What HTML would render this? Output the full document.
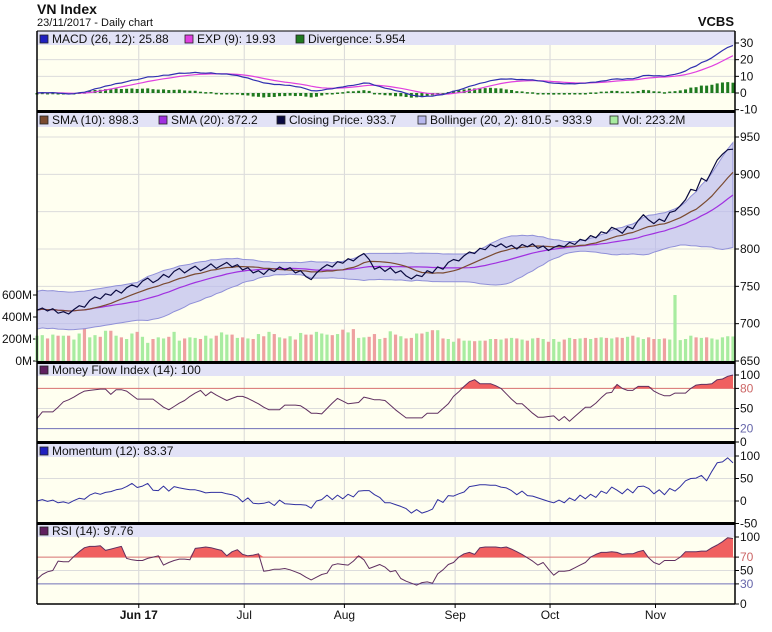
<!DOCTYPE html>
<html><head><meta charset="utf-8"><style>
html,body{margin:0;padding:0;background:#fff;}
svg{display:block;font-family:"Liberation Sans",Arial,sans-serif;}
</style></head><body>
<svg id="chart" width="772" height="632" viewBox="0 0 772 632" xmlns="http://www.w3.org/2000/svg">
<text x="37" y="14" font-size="14" font-weight="bold" fill="#111">VN Index</text>
<text x="37" y="26" font-size="11" fill="#111">23/11/2017 - Daily chart</text>
<text x="734" y="26" font-size="13" font-weight="bold" fill="#111" text-anchor="end">VCBS</text>
</svg>
<script>
const closes = [718,721,717,720,714,716,713,719,724,722,
731,736,733,740,738,745,741,748,752,749,
757,761,755,759,766,762,770,774,768,773,
777,771,775,780,774,778,782,776,779,772,
775,768,771,766,773,770,776,772,775,768,
771,763,759,768,774,779,776,783,781,787,
784,790,794,786,773,776,770,775,768,771,
764,760,765,763,771,768,776,773,782,786,
784,791,796,794,801,799,806,803,807,802,
805,800,806,803,807,801,804,798,802,805,
803,809,806,813,811,818,815,823,821,829,
826,821,830,827,838,846,839,834,840,837,
849,851,858,866,880,878,895,891,905,919,
927,933,933.7];
const volumes = [230,235,205,240,230,230,230,195,250,300,
215,235,220,275,275,230,215,200,250,265,
220,165,200,215,205,220,265,185,205,215,
210,200,230,205,230,260,240,240,210,215,
205,200,245,225,265,245,215,205,225,195,
255,240,240,265,250,240,235,245,285,260,
290,210,215,220,245,200,210,270,240,225,
205,210,250,250,265,280,280,205,200,175,
205,185,185,180,185,185,200,200,195,205,
210,205,195,185,205,210,200,175,200,175,
195,210,200,205,210,200,210,215,210,205,
215,210,220,230,215,200,215,200,200,205,
195,600,190,200,230,215,210,215,205,195,
215,225,223];
const mfiValues = [35,45,45,45,52,60,63,67,72,76,
77,78,79,79,71,78,78,76,70,64,
64,64,64,58,52,48,53,58,62,68,
73,77,69,75,70,66,62,65,68,68,
65,61,57,52,48,48,48,55,55,55,
54,49,43,43,42,50,58,65,61,57,
58,59,67,65,63,63,62,55,48,42,
36,36,36,36,43,43,43,50,57,68,
75,83,90,93,87,87,87,84,80,72,
64,57,57,50,43,37,37,38,39,32,
38,31,38,45,52,52,58,66,73,74,
86,80,77,77,83,83,83,76,72,69,
69,73,73,73,80,85,86,86,87,93,
94,98,100];
const rsiValues = [37,44,48,50,64,63,63,71,78,84,
86,86,87,80,82,84,86,68,66,65,
65,68,70,72,58,62,65,67,67,66,
83,84,85,84,82,80,72,78,81,74,
72,73,75,49,50,52,52,53,51,48,
45,40,36,40,44,46,58,60,59,58,
64,72,66,53,56,59,55,48,50,38,
34,31,28,32,33,31,45,51,59,62,
70,75,77,74,84,85,85,85,84,85,
82,78,74,69,64,58,62,52,43,49,
49,50,54,58,62,70,74,77,77,78,
77,74,75,75,78,80,69,62,59,65,
65,65,70,78,78,78,79,79,84,88,
93,99,97.76];
const monthLabels = ["Jun 17","Jul","Aug","Sep","Oct","Nov"];
const monthIndex = [19.3,39.3,58.3,79.3,97.3,117.3];
const macdTicks = [30,20,10,0,-10];
const priceTicks = [950,900,850,800,750,700,650];
const volTicks = [0,200,400,600];
const mfiTicks = [100,80,50,20,0];
const momTicks = [100,50,0,-50];
const rsiTicks = [100,70,50,30,0];

const svg = document.getElementById('chart');
const NS = 'http://www.w3.org/2000/svg';
const L = 37, R = 735, N = closes.length;
function X(i){ return L + i*(R-2-L)/(N-1); }
function mk(tag, attrs, parent){ const e = document.createElementNS(NS, tag); for (const k in attrs) e.setAttribute(k, attrs[k]); (parent||svg).appendChild(e); return e; }
function lin(v0,y0,v1,y1){ return v => y0 + (v-v0)*(y1-y0)/(v1-v0); }

const yMacd = lin(0,93,30,43);
const yPrice = lin(650,361,950,137);
const yVol = lin(0,361,600,295);
const yMfi = lin(0,442,100,375);
const yMom = lin(0,501,100,456);
const yRsi = lin(0,604,100,537);

function sma(a,n){ return a.map((_,i)=>{ const s=a.slice(Math.max(0,i-n+1),i+1); return s.reduce((p,c)=>p+c,0)/s.length; }); }
function sd(a,n){ return a.map((_,i)=>{ const s=a.slice(Math.max(0,i-n+1),Math.max(i+1,n)); const m=s.reduce((p,c)=>p+c,0)/s.length; return Math.sqrt(s.reduce((p,c)=>p+(c-m)*(c-m),0)/s.length); }); }
function ema(a,n){ const k=2/(n+1); const o=[a[0]]; for(let i=1;i<a.length;i++) o.push(a[i]*k+o[i-1]*(1-k)); return o; }
const sma10 = sma(closes,10), sma20 = sma(closes,20), sd20 = sd(closes,20);
const bbU = sma20.map((m,i)=>m+2*sd20[i]), bbL = sma20.map((m,i)=>m-2*sd20[i]);
const e12 = ema(closes,12), e26 = ema(closes,26);
const macd = e12.map((v,i)=>v-e26[i]);
const sig = ema(macd,9);
const div = macd.map((v,i)=>v-sig[i]);
const mom = closes.map((c,i)=>c-closes[Math.max(0,i-12)]);

const panels = [
 {name:'macd-panel', top:31, bot:111, hdr:14},
 {name:'price-panel', top:112, bot:362, hdr:15},
 {name:'mfi-panel', top:363, bot:442, hdr:13},
 {name:'momentum-panel', top:444, bot:523, hdr:13},
 {name:'rsi-panel', top:525, bot:604, hdr:12}
];
panels.forEach(p=>{
  const bg = mk('rect',{x:L,y:p.top,width:R-L,height:p.bot-p.top,fill:'#fffff0'});
  
  
  const h = mk('rect',{x:L,y:p.top,width:R-L,height:p.hdr,fill:'#e2e2f6'});
  
  
});
monthIndex.forEach((mi,k)=>{
  panels.forEach(p=>{
    const g = mk('line',{x1:X(mi),x2:X(mi),y1:p.top+p.hdr,y2:p.bot,stroke:'#d8d8d8','stroke-width':1});
    
    
  });
  const t = mk('text',{x:X(mi),y:619,'font-size':12,'text-anchor':'middle',fill:'#111','font-weight':k===0?'bold':'normal'});
  t.textContent = monthLabels[k];
  
  
  const tk = mk('line',{x1:X(mi),x2:X(mi),y1:604,y2:608,stroke:'#000'});
  
  
});
function hgrid(ticks, yf, colorOf, lblColorOf, name){
  ticks.forEach(v=>{
    const y = yf(v);
    const c = colorOf(v);
    if (c) { const g = mk('line',{x1:L,x2:R,y1:y,y2:y,stroke:c,'stroke-width':1});
      
       }
    const tk = mk('line',{x1:R,x2:R+4,y1:y,y2:y,stroke:'#000'});
    
    
    const t = mk('text',{x:R+5,y:y+4,'font-size':12,fill:lblColorOf(v)});
    t.textContent = v;
    
    
  });
}
const black = v=>'#111';
hgrid(macdTicks, yMacd, v=>(v===30||v===-10)?null:'#dcdcdc', black, 'macd-axis');
hgrid(priceTicks, yPrice, v=>'#dcdcdc', black, 'price-axis');
hgrid(mfiTicks, yMfi, v=>v===80?'#d87070':v===20?'#7070b8':(v===50?'#dcdcdc':null), v=>v===80?'#cc6666':v===20?'#6666aa':'#111', 'mfi-axis');
hgrid(momTicks, yMom, v=>(v===100||v===-50)?null:'#dcdcdc', black, 'momentum-axis');
hgrid(rsiTicks, yRsi, v=>v===70?'#d87070':v===30?'#7070b8':(v===50?'#dcdcdc':null), v=>v===70?'#cc6666':v===30?'#6666aa':'#111', 'rsi-axis');
volTicks.forEach(v=>{
  const y = yVol(v);
  const tk = mk('line',{x1:L-4,x2:L,y1:y,y2:y,stroke:'#000'});
  
  
  const t = mk('text',{x:L-5,y:y+4,'font-size':12,'text-anchor':'end',fill:'#111'});
  t.textContent = v+'M';
  
  
});

function pts(arr, yf){ return arr.map((v,i)=>X(i).toFixed(1)+','+yf(v).toFixed(1)).join(' '); }
function line(arr, yf, color, w, name){
  const e = mk('polyline',{points:pts(arr,yf),fill:'none',stroke:color,'stroke-width':w,'stroke-linejoin':'round'});
  
  
}
function fillAbove(arr, yf, thr, name){
  const p = arr.map((v,i)=>X(i).toFixed(1)+','+yf(Math.max(v,thr)).toFixed(1));
  p.push(X(arr.length-1).toFixed(1)+','+yf(thr).toFixed(1), X(0).toFixed(1)+','+yf(thr).toFixed(1));
  const e = mk('polygon',{points:p.join(' '),fill:'#f06060',stroke:'none'});
  
  
}

div.forEach((d,i)=>{
  const y0 = yMacd(0), y1 = yMacd(d);
  const b = mk('rect',{x:X(i)-1.5,y:Math.min(y0,y1),width:3,height:Math.max(1.5,Math.abs(y1-y0)),fill:'#1f7a1f'});
  
  
});
line(sig, yMacd, '#e040e0', 1.2, 'exp-signal-line');
line(macd, yMacd, '#3030b0', 1.2, 'macd-line');

volumes.forEach((v,i)=>{
  const up = i===0 || closes[i]>=closes[i-1];
  const b = mk('rect',{x:X(i)-1.6,y:yVol(v),width:3.2,height:yVol(0)-yVol(v),fill:up?'#a8eca0':'#eea0a0'});
  
  
});
{
  const p = bbU.map((v,i)=>X(i).toFixed(1)+','+yPrice(v).toFixed(1)).concat(bbL.map((v,i)=>X(i).toFixed(1)+','+yPrice(v).toFixed(1)).reverse());
  const e = mk('polygon',{points:p.join(' '),fill:'#b8b8ee','fill-opacity':0.65,stroke:'#9090d8','stroke-width':1});
  
  
}
line(sma20, yPrice, '#a030e0', 1.2, 'sma20-line');
line(sma10, yPrice, '#7a4a30', 1.2, 'sma10-line');
line(closes, yPrice, '#0a0a40', 1.2, 'closing-price-line');

fillAbove(mfiValues, yMfi, 80, 'mfi-overbought-fill');
line(mfiValues, yMfi, '#603060', 1, 'mfi-line');
line(mom, yMom, '#3030a0', 1, 'momentum-line');
fillAbove(rsiValues, yRsi, 70, 'rsi-overbought-fill');
line(rsiValues, yRsi, '#603060', 1, 'rsi-line');

[[L,31,L,604],[R,31,R,604]].forEach(c=>{
  const e = mk('line',{x1:c[0],y1:c[1],x2:c[2],y2:c[3],stroke:'#000','stroke-width':1.5});
  
  
});
[[31,1],[111.5,3],[362.5,3],[442.5,3],[523.5,3],[604,1.5]].forEach(c=>{
  const e = mk('line',{x1:L,y1:c[0],x2:R,y2:c[0],stroke:'#000','stroke-width':c[1]});
  
  
});

function legend(x, y, color, text, name){
  const s = mk('rect',{x:x,y:y-8,width:8,height:8,fill:color,stroke:'#222','stroke-width':0.8});
  
  
  const t = mk('text',{x:x+12,y:y,'font-size':12,fill:'#111'});
  t.textContent = text;
  
  
}
legend(40,43,'#2020c0','MACD (26, 12): 25.88','legend-macd');
legend(185,43,'#e040e0','EXP (9): 19.93','legend-exp');
legend(296,43,'#1f7a1f','Divergence: 5.954','legend-divergence');
legend(40,124,'#7a4a30','SMA (10): 898.3','legend-sma10');
legend(159,124,'#a030e0','SMA (20): 872.2','legend-sma20');
legend(277,124,'#0a0a40','Closing Price: 933.7','legend-closing-price');
legend(418,124,'#b8b8ee','Bollinger (20, 2): 810.5 - 933.9','legend-bollinger');
legend(610,124,'#a8eca0','Vol: 223.2M','legend-volume');
legend(40,374,'#602060','Money Flow Index (14): 100','legend-mfi');
legend(40,455,'#2020c0','Momentum (12): 83.37','legend-momentum');
legend(40,535,'#602060','RSI (14): 97.76','legend-rsi');
</script>
</body></html>
